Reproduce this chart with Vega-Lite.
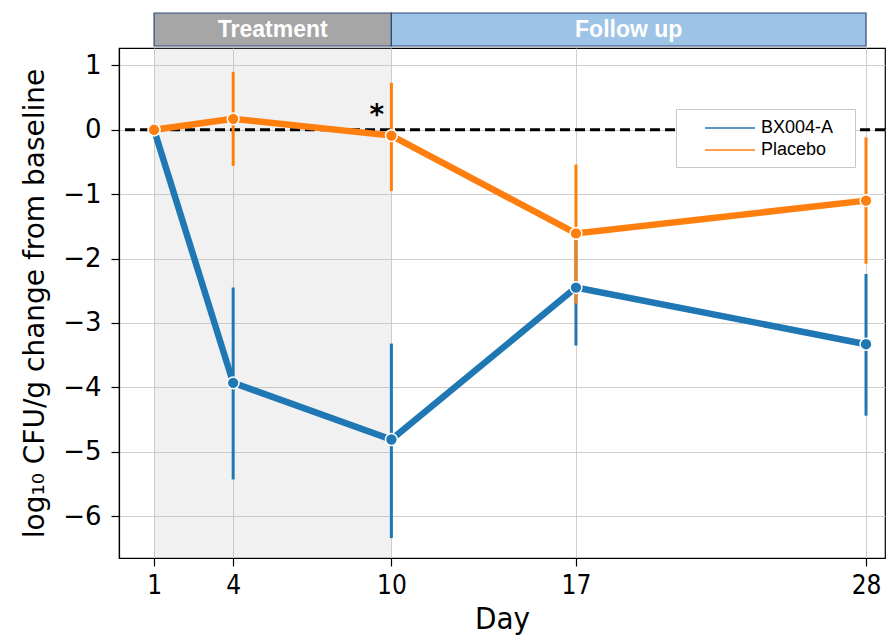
{
  "$schema": "https://vega.github.io/schema/vega-lite/v6.json",
  "padding": {"left": 21, "top": 12, "right": 0, "bottom": 0},
  "background": "white",
  "spacing": 0,
  "resolve": {"scale": {"color": "independent", "fill": "independent", "x": "independent"}, "legend": {"color": "independent"}},
  "config": {
    "font": "DejaVu Sans",
    "concat": {"spacing": 0}
  },
  "datasets": {
    "series": [
      {"day": 1, "group": "BX004-A", "mean": 0, "lo": 0, "hi": 0},
      {"day": 4, "group": "BX004-A", "mean": -3.93, "lo": -5.43, "hi": -2.45},
      {"day": 10, "group": "BX004-A", "mean": -4.81, "lo": -6.34, "hi": -3.32},
      {"day": 17, "group": "BX004-A", "mean": -2.45, "lo": -3.35, "hi": -1.55},
      {"day": 28, "group": "BX004-A", "mean": -3.33, "lo": -4.44, "hi": -2.24},
      {"day": 1, "group": "Placebo", "mean": 0, "lo": 0, "hi": 0},
      {"day": 4, "group": "Placebo", "mean": 0.17, "lo": -0.56, "hi": 0.9},
      {"day": 10, "group": "Placebo", "mean": -0.09, "lo": -0.95, "hi": 0.73},
      {"day": 17, "group": "Placebo", "mean": -1.61, "lo": -2.7, "hi": -0.54},
      {"day": 28, "group": "Placebo", "mean": -1.1, "lo": -2.08, "hi": -0.12}
    ],
    "phases": [
      {"start": 1, "end": 10, "mid": 5.5, "phase": "Treatment"},
      {"start": 10, "end": 28, "mid": 19, "phase": "Follow up"}
    ]
  },
  "vconcat": [
    {
      "width": 766,
      "height": 33,
      "view": {"stroke": null},
      "data": {"name": "phases"},
      "layer": [
        {
          "mark": {"type": "rect", "stroke": "#2f4a7a", "strokeWidth": 1.2},
          "encoding": {
            "x": {"field": "start", "type": "quantitative", "scale": {"domain": [-0.33, 28.72], "nice": false, "zero": false}, "axis": null},
            "x2": {"field": "end"},
            "color": {"field": "phase", "type": "nominal", "scale": {"domain": ["Treatment", "Follow up"], "range": ["#a6a6a6", "#9dc3e6"]}, "legend": null}
          }
        },
        {
          "mark": {"type": "text", "font": "Liberation Sans", "fontWeight": "bold", "fontSize": 23, "color": "white", "baseline": "middle"},
          "encoding": {
            "x": {"field": "mid", "type": "quantitative", "scale": {"domain": [-0.33, 28.72], "nice": false, "zero": false}, "axis": null},
            "text": {"field": "phase"}
          }
        }
      ]
    },
    {
      "width": 766,
      "height": 510,
      "view": {"stroke": "black", "strokeWidth": 1.2},
      "layer": [
        {
          "data": {"name": "phases"},
          "transform": [{"filter": "datum.phase === 'Treatment'"}],
          "mark": {"type": "rect", "color": "#b0b0b0", "opacity": 0.18},
          "encoding": {
            "x": {"field": "start", "type": "quantitative"},
            "x2": {"field": "end"}
          }
        },
        {
          "data": {"values": [{"ref": 0}]},
          "mark": {"type": "rule", "color": "black", "strokeWidth": 3, "strokeDash": [10, 5]},
          "encoding": {"y": {"field": "ref", "type": "quantitative"}}
        },
        {
          "data": {"name": "series"},
          "mark": {"type": "rule", "strokeWidth": 3},
          "encoding": {
            "x": {"field": "day", "type": "quantitative"},
            "y": {"field": "lo", "type": "quantitative"},
            "y2": {"field": "hi"},
            "color": {"field": "group", "type": "nominal", "scale": {"domain": ["BX004-A", "Placebo"], "range": ["#1f77b4", "#ff7f0e"]}}
          }
        },
        {
          "data": {"name": "series"},
          "mark": {"type": "line", "strokeWidth": 6.5},
          "encoding": {
            "x": {"field": "day", "type": "quantitative"},
            "y": {"field": "mean", "type": "quantitative"},
            "color": {
              "field": "group", "type": "nominal",
              "scale": {"domain": ["BX004-A", "Placebo"], "range": ["#1f77b4", "#ff7f0e"]},
              "legend": {
                "title": " ", "titleOrient": "right", "titlePadding": 14, "titleFontSize": 18,
                "orient": "none", "legendX": 557, "legendY": 61,
                "symbolType": "M-2.5,0H2.5", "symbolSize": 400, "symbolStrokeWidth": 1.5,
                "labelFont": "Liberation Sans", "labelFontSize": 18, "labelColor": "black", "labelOffset": 20,
                "padding": 8, "symbolOffset": 35, "rowPadding": 2,
                "strokeColor": "#c8c8c8", "fillColor": "white", "cornerRadius": 0
              }
            }
          }
        },
        {
          "data": {"name": "series"},
          "mark": {"type": "point", "filled": true, "size": 140, "stroke": "white", "strokeWidth": 1.5, "opacity": 1},
          "encoding": {
            "x": {"field": "day", "type": "quantitative"},
            "y": {"field": "mean", "type": "quantitative"},
            "fill": {"field": "group", "type": "nominal", "scale": {"domain": ["BX004-A", "Placebo"], "range": ["#1f77b4", "#ff7f0e"]}, "legend": null}
          }
        },
        {
          "data": {"values": [{"day": 9.45, "v": 0.09, "label": "*"}]},
          "mark": {"type": "text", "fontSize": 28, "fontWeight": "bold", "color": "black", "baseline": "alphabetic", "font": "DejaVu Sans"},
          "encoding": {
            "x": {"field": "day", "type": "quantitative"},
            "y": {"field": "v", "type": "quantitative"},
            "text": {"field": "label"}
          }
        }
      ],
      "encoding": {
        "x": {
          "type": "quantitative",
          "scale": {"domain": [-0.33, 28.72], "nice": false, "zero": false},
          "axis": {
            "title": "Day", "values": [1, 4, 10, 17, 28],
            "titleFont": "DejaVu Sans Condensed, DejaVu Sans", "titleFontSize": 31, "titleFontWeight": "normal", "titleColor": "black", "titlePadding": 6,
            "labelFont": "DejaVu Sans Condensed, DejaVu Sans", "labelFontSize": 26, "labelColor": "black", "labelPadding": 6,
            "domainColor": "black", "domainWidth": 1.2, "tickColor": "black", "tickSize": 8, "tickWidth": 1.2,
            "gridColor": "#cfcfcf", "gridWidth": 1
          }
        },
        "y": {
          "type": "quantitative",
          "scale": {"domain": [-6.65, 1.27], "nice": false, "zero": false},
          "axis": {
            "title": "log₁₀ CFU/g change from baseline", "values": [1, 0, -1, -2, -3, -4, -5, -6],
            "titleFontSize": 28, "titleFontWeight": "normal", "titleColor": "black", "titlePadding": 13,
            "labelFontSize": 26, "labelColor": "black", "labelPadding": 10,
            "domainColor": "black", "domainWidth": 1.2, "tickColor": "black", "tickSize": 8, "tickWidth": 1.2,
            "gridColor": "#cfcfcf", "gridWidth": 1
          }
        }
      }
    }
  ]
}
